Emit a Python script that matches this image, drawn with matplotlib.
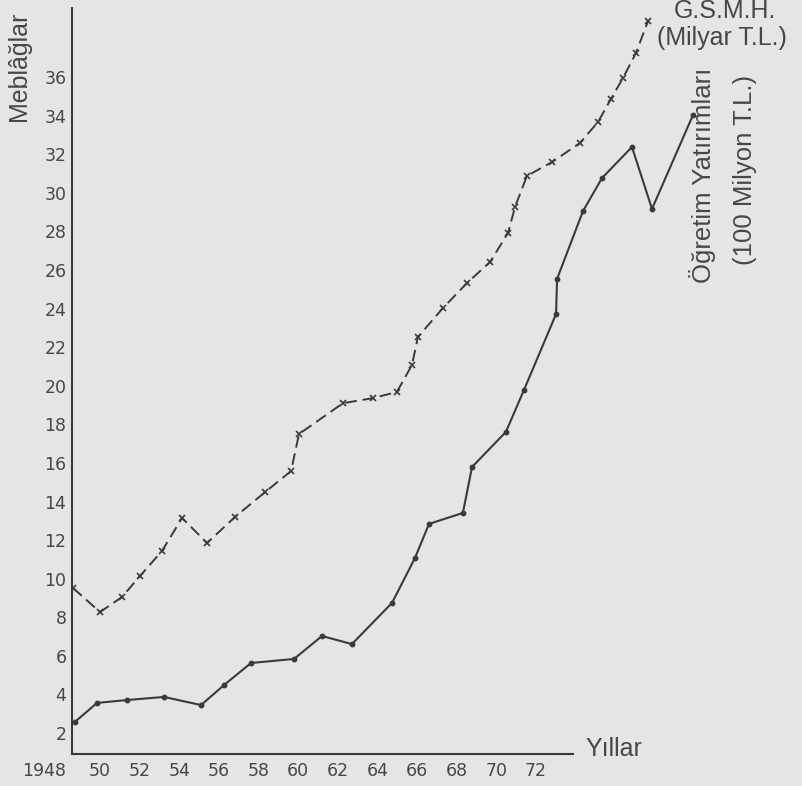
import matplotlib
matplotlib.use('Agg')
import matplotlib.pyplot as plt

#---DATA---
#G.S.M.H. (Milyar T.L.) - dashed line with x marks
gsmh_years = [1948.64, 1950.00, 1951.11, 1952.02, 1953.13, 1954.14, 1955.40, 1956.81,
              1958.33, 1959.64, 1960.04, 1962.26, 1963.77, 1964.98, 1965.74, 1966.04,
              1967.31, 1968.52, 1969.68, 1970.59, 1970.94, 1971.54, 1972.81, 1974.22,
              1975.13, 1975.78, 1976.39, 1977.04, 1977.65]
gsmh_values = [9.52, 8.27, 9.05, 10.14, 11.44, 13.15, 11.85, 13.20,
               14.49, 15.58, 17.50, 19.10, 19.36, 19.68, 21.08, 22.53,
               24.04, 25.33, 26.42, 27.93, 29.27, 30.88, 31.60, 32.59,
               33.68, 34.87, 35.96, 37.25, 38.91]

#Ogretim Yatirimlari (100 Milyon T.L.) - solid line with dots
edu_years = [1948.74, 1949.85, 1951.36, 1953.23, 1955.10, 1956.26, 1957.62, 1959.79,
             1961.20, 1962.71, 1964.73, 1965.89, 1966.60, 1968.31, 1968.77, 1970.48,
             1971.39, 1973.01, 1973.06, 1974.37, 1975.33, 1976.84, 1977.85, 1979.92]
edu_values = [2.58, 3.56, 3.71, 3.87, 3.45, 4.49, 5.63, 5.84,
              7.03, 6.61, 8.74, 11.07, 12.84, 13.41, 15.79, 17.61,
              19.78, 23.72, 25.54, 29.06, 30.77, 32.38, 29.17, 34.04]

x_ticks = [1950, 1952, 1954, 1956, 1958, 1960, 1962, 1964, 1966, 1968, 1970, 1972]
x_labels = ['50', '52', '54', '56', '58', '60', '62', '64', '66', '68', '70', '72']
y_ticks = [2, 4, 6, 8, 10, 12, 14, 16, 18, 20, 22, 24, 26, 28, 30, 32, 34, 36]

#---COLORS---
bg = '#e5e5e3'
ink = '#3a3a3a'
text_col = '#474747'

W, H = 803, 786
fig = plt.figure(figsize=(W / 100, H / 100), dpi=100, facecolor=bg)

#axes placed in pixel terms of the scan
ax_left, ax_right, ax_top, ax_bottom = 72, 803, 8, 754
ax = fig.add_axes([ax_left / W, 1 - ax_bottom / H, (ax_right - ax_left) / W, (ax_bottom - ax_top) / H])
ax.set_facecolor(bg)

#pixel -> data mapping measured from tick labels
px_per_year = 19.82
px_per_unit = 19.29
x0 = 1950 + (ax_left - 100) / px_per_year
x1 = 1950 + (ax_right - 100) / px_per_year
y0 = (771.6 - ax_bottom) / px_per_unit
y1 = (771.6 - ax_top) / px_per_unit
ax.set_xlim(x0, x1)
ax.set_ylim(y0, y1)

#---PLOT---
ax.plot(gsmh_years, gsmh_values, color=ink, linewidth=1.4,
        linestyle=(0, (6, 3)), marker='x', markersize=4, markeredgewidth=1.2)
ax.plot(edu_years, edu_values, color=ink, linewidth=1.5,
        marker='o', markersize=3.2)

#---FORMATTING---
for pos in ['right', 'top']:
    ax.spines[pos].set_visible(False)
for pos in ['left', 'bottom']:
    ax.spines[pos].set_color(ink)
    ax.spines[pos].set_linewidth(1.5)
#x axis line stops short of the right edge, like the scan
ax.spines['bottom'].set_bounds(x0, 1950 + (573 - 100) / px_per_year)

ax.set_xticks(x_ticks)
ax.set_xticklabels(x_labels)
ax.set_yticks(y_ticks)
ax.tick_params(length=0, colors=text_col, labelsize=12.5)
ax.tick_params(axis='x', pad=6)
ax.tick_params(axis='y', pad=4)

#the 1948 label sits left of the axis
ax.text(1950 + (44 - 100) / px_per_year, 0, '1948',
        transform=ax.get_xaxis_text1_transform(6)[0], ha='center', va='top',
        fontsize=12.5, color=text_col, clip_on=False)

#---TEXT LABELS---
lab = dict(color=text_col, fontsize=18, family='Liberation Sans')
fig.text(19 / W, 1 - 66 / H, 'Meblâğlar', rotation=90, ha='center', va='center', **lab)
fig.text(585 / W, 1 - 749 / H, 'Yıllar', ha='left', va='center', **lab)
fig.text(725 / W, 1 - 11 / H, 'G.S.M.H.', ha='center', va='center', **lab)
fig.text(722 / W, 1 - 38 / H, '(Milyar T.L.)', ha='center', va='center', **lab)
fig.text(703 / W, 1 - 175 / H, 'Öğretim Yatırımları', rotation=90, ha='center', va='center',
         color=text_col, fontsize=18.5, family='Liberation Sans')
fig.text(745 / W, 1 - 170 / H, '(100 Milyon T.L.)', rotation=90, ha='center', va='center',
         color=text_col, fontsize=18.5, family='Liberation Sans')

plt.savefig('out.png', dpi=100, facecolor=bg)
